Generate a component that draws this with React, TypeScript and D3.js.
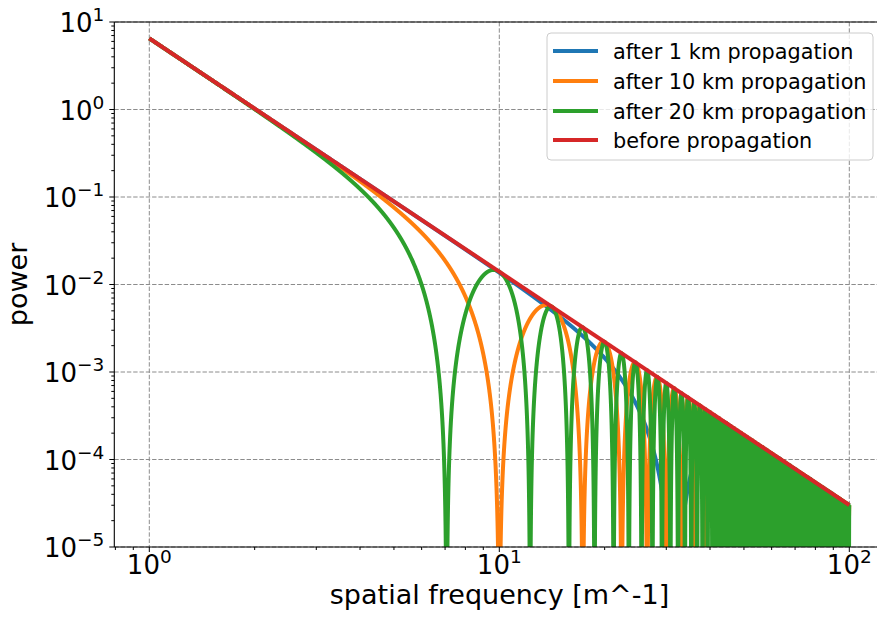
import React from "react";
import * as d3 from "d3";

// ---- data ----
// Reference spectrum: value at f = 1 and log-log slope (~6.5 at 1, ~3e-5 at 100)
const spectrumAmplitude = [6.5];
const spectrumSlope = [-8 / 3];
// Propagation distances (km) of the three filtered series; first nulls read at f ≈ 31.6, 10, 7.07
const distancesKm = [1, 10, 20];
const seriesLabels = [
  "after 1 km propagation",
  "after 10 km propagation",
  "after 20 km propagation",
  "before propagation",
];
const seriesColors = ["#1f77b4", "#ff7f0e", "#2ca02c", "#d62728"];
const freqRange = [1, 100];
const xTickValues = [1, 10, 100];
const xTickExps = ["0", "1", "2"];
const yTickValues = [1e1, 1e0, 1e-1, 1e-2, 1e-3, 1e-4, 1e-5];
const yTickExps = ["1", "0", "\u22121", "\u22122", "\u22123", "\u22124", "\u22125"];

const W = 877;
const H = 619;
const L = 114.3;
const R = 884.3;
const T = 22;
const B = 547;

const FONT = "DejaVu Sans, sans-serif";

export default function App() {
  const x = d3.scaleLog().domain([Math.pow(10, -0.1), Math.pow(10, 2.1)]).range([L, R]);
  const y = d3.scaleLog().domain([1e-5, 10]).range([B, T]);

  const N = 24000;
  const freqs = d3.range(N).map((i) => freqRange[0] + ((freqRange[1] - freqRange[0]) * i) / (N - 1));
  const base = (f: number) => spectrumAmplitude[0] * Math.pow(f, spectrumSlope[0]);
  const series = distancesKm.map((z) =>
    freqs.map((f) => {
      const c = Math.cos((Math.PI * z * f * f) / 2000);
      return [f, base(f) * c * c] as [number, number];
    })
  );
  series.push(freqs.map((f) => [f, base(f)] as [number, number]));

  const line = d3
    .line<[number, number]>()
    .x((d) => x(d[0]))
    .y((d) => y(Math.max(d[1], 1e-9)));

  const minorX: number[] = [];
  for (let e = -1; e <= 2; e++) for (let m = 2; m <= 9; m++) {
    const v = m * Math.pow(10, e);
    if (v >= x.domain()[0] && v <= x.domain()[1]) minorX.push(v);
  }
  const minorY: number[] = [];
  for (let e = -5; e <= 0; e++) for (let m = 2; m <= 9; m++) minorY.push(m * Math.pow(10, e));

  const legendRows = [51, 81, 111, 140];

  return (
    <svg width={W} height={H} style={{ position: "absolute", left: 0, top: 0, background: "#fff" }} fontFamily={FONT}>
      <defs>
        <clipPath id="plot">
          <rect x={L} y={T} width={R - L} height={B - T} />
        </clipPath>
      </defs>
      <rect x={0} y={0} width={W} height={H} fill="#fff" />
      {/* grid */}
      <g stroke="#8c8c8c" strokeWidth={1} strokeDasharray="4.4,1.9">
        {xTickValues.map((v, i) => (
          <line key={"gx" + i} x1={x(v)} x2={x(v)} y1={T} y2={B} />
        ))}
        {yTickValues.map((v, i) => (
          <line key={"gy" + i} x1={L} x2={R} y1={y(v)} y2={y(v)} />
        ))}
      </g>
      {/* series */}
      <g clipPath="url(#plot)" fill="none" strokeWidth={4} strokeLinejoin="round">
        {series.map((s, i) => (
          <path key={i} d={line(s) || ""} stroke={seriesColors[i]} />
        ))}
      </g>
      {/* spines */}
      <g stroke="#000" strokeWidth={1.1} fill="none">
        <line x1={L} x2={L} y1={T} y2={B} />
        <line x1={L} x2={R} y1={B} y2={B} />
        <line x1={L} x2={R} y1={T} y2={T} />
        <line x1={R} x2={R} y1={T} y2={B} />
      </g>
      {/* ticks */}
      <g stroke="#000" strokeWidth={1}>
        {xTickValues.map((v, i) => (
          <line key={"tx" + i} x1={x(v)} x2={x(v)} y1={B} y2={B + 5} />
        ))}
        {minorX.map((v, i) => (
          <line key={"mx" + i} x1={x(v)} x2={x(v)} y1={B} y2={B + 3} />
        ))}
        {yTickValues.map((v, i) => (
          <line key={"ty" + i} x1={L - 5} x2={L} y1={y(v)} y2={y(v)} />
        ))}
        {minorY.map((v, i) => (
          <line key={"my" + i} x1={L - 3} x2={L} y1={y(v)} y2={y(v)} />
        ))}
      </g>
      {/* tick labels */}
      <g fontSize={26} fill="#000">
        {xTickValues.map((v, i) => (
          <text key={"lx" + i} x={x(v)} y={574} textAnchor="middle">
            10<tspan fontSize={18.5} dy={-11}>{xTickExps[i]}</tspan>
          </text>
        ))}
        {yTickValues.map((v, i) => (
          <text key={"ly" + i} x={L - 10} y={y(v) + 10} textAnchor="end">
            10<tspan fontSize={18.5} dy={-11}>{yTickExps[i]}</tspan>
          </text>
        ))}
      </g>
      {/* axis labels */}
      <text x={499.5} y={604} textAnchor="middle" fontSize={27}>
        spatial frequency [m^-1]
      </text>
      <text transform={`translate(27,${(T + B) / 2}) rotate(-90)`} textAnchor="middle" fontSize={27}>
        power
      </text>
      {/* legend */}
      <g>
        <rect x={547} y={33} width={326} height={127} rx={4} fill="#fff" fillOpacity={0.8} stroke="#cccccc" strokeWidth={1} />
        {seriesLabels.map((lab, i) => (
          <g key={"lg" + i}>
            <line x1={553} x2={598} y1={legendRows[i]} y2={legendRows[i]} stroke={seriesColors[i]} strokeWidth={4} />
            <text x={613} y={legendRows[i] + 7.5} fontSize={20.8} fill="#000">
              {lab}
            </text>
          </g>
        ))}
      </g>
    </svg>
  );
}
